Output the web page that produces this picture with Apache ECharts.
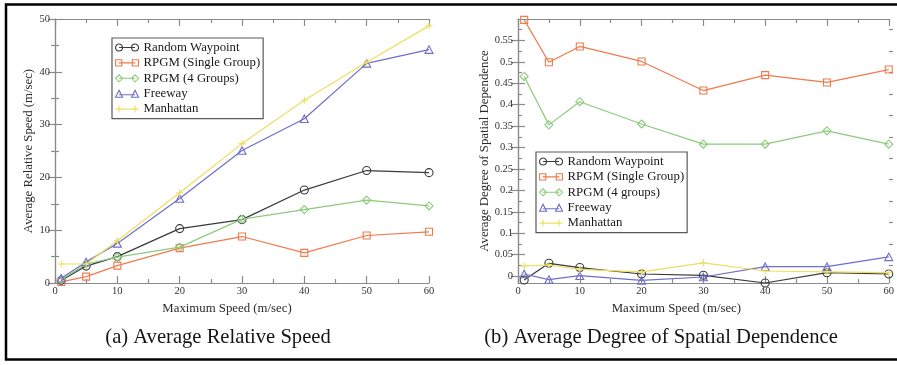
<!DOCTYPE html>
<html>
<head>
<meta charset="utf-8">
<script src="https://cdn.jsdelivr.net/npm/echarts@6/dist/echarts.min.js"></script>
<style>
  html, body { margin: 0; padding: 0; background: #fff; }
  #chart { width: 897px; height: 365px; }
</style>
</head>
<body>
<div id="chart"></div>
<script>
// Maximum node speed (m/sec) sampled in both panels
const speeds = [1, 5, 10, 20, 30, 40, 50, 60];

// (a) Average relative speed (m/sec)
const rwSpeed         = [0.5, 3.2, 5.0, 10.3, 12.0, 17.6, 21.3, 20.9];
const rpgmSingleSpeed = [0.2, 1.2, 3.3, 6.6, 8.8, 5.7, 9.0, 9.7];
const rpgm4Speed      = [0.6, 3.6, 4.9, 6.8, 12.1, 13.9, 15.7, 14.6];
const freewaySpeed    = [0.9, 4.0, 7.5, 16.0, 25.1, 31.1, 41.6, 44.2];
const manhattanSpeed  = [3.6, 3.6, 8.0, 17.1, 26.4, 34.6, 41.8, 48.7];

// (b) Average degree of spatial dependence
const rwDep         = [-0.009, 0.030, 0.020, 0.005, 0.002, -0.016, 0.008, 0.005];
const rpgmSingleDep = [0.598, 0.499, 0.536, 0.501, 0.433, 0.469, 0.452, 0.482];
const rpgm4Dep      = [0.466, 0.353, 0.407, 0.355, 0.308, 0.308, 0.339, 0.308];
const freewayDep    = [0.005, -0.008, 0.001, -0.010, -0.002, 0.022, 0.022, 0.045];
const manhattanDep  = [0.024, 0.026, 0.016, 0.010, 0.031, 0.012, 0.010, 0.008];

// Tick positions for the spatial-dependence axis
const depLabels = [0, 0.05, 0.1, 0.15, 0.2, 0.25, 0.3, 0.35, 0.4, 0.45, 0.5, 0.55];
const depMinorTicks = [0.025, 0.075, 0.125, 0.175, 0.225, 0.275, 0.325, 0.375, 0.425, 0.475, 0.525, 0.575];

const namesA = ['Random Waypoint', 'RPGM (Single Group)', 'RPGM (4 Groups)', 'Freeway', 'Manhattan'];
const namesB = ['Random Waypoint', 'RPGM (Single Group)', 'RPGM (4 groups)', 'Freeway', 'Manhattan'];

const colors = ['#3a3a3a', '#ef7a4c', '#8ccb7c', '#6e6ecc', '#eedf5e'];

const FONT = 'Liberation Serif, Times New Roman, serif';
const AXIS_GRAY = '#8a8a8a';

// Hollow marker shapes
const markerShapes = [
  'path://M0,5a5,5 0 1,0 10,0a5,5 0 1,0 -10,0Z',
  'path://M0,0L10,0L10,10L0,10Z',
  'path://M5,0L10,5L5,10L0,5Z',
  'path://M5,0L10,9L0,9Z',
  'path://M0,5L10,5M5,0L5,10'
];
const markerSizes = [8, 7, 8, [8, 7.5], 7];

// Legend icons: two markers joined by a line segment
const legendIcons = [
  'path://M0,3.5a3.5,3.5 0 1,0 7,0a3.5,3.5 0 1,0 -7,0ZM3.5,3.5L19.5,3.5M16,3.5a3.5,3.5 0 1,0 7,0a3.5,3.5 0 1,0 -7,0Z',
  'path://M0.5,0.5L6.5,0.5L6.5,6.5L0.5,6.5ZM3.5,3.5L19.5,3.5M16.5,0.5L22.5,0.5L22.5,6.5L16.5,6.5Z',
  'path://M3.5,0L7,3.5L3.5,7L0,3.5ZM3.5,3.5L19.5,3.5M19.5,0L23,3.5L19.5,7L16,3.5Z',
  'path://M3.5,0L7,7L0,7ZM3.5,4.5L19.5,4.5M19.5,0L23,7L16,7Z',
  'path://M0,3.5L23,3.5M3.5,0L3.5,7M19.5,0L19.5,7'
];

function pairs(ys) { return speeds.map((x, i) => [x, ys[i]]); }

function makeSeries(names, values, xIdx, yIdx) {
  return names.map((name, i) => ({
    name: name,
    type: 'line',
    xAxisIndex: xIdx,
    yAxisIndex: yIdx,
    data: pairs(values[i]),
    symbol: markerShapes[i],
    symbolSize: markerSizes[i],
    showAllSymbol: true,
    clip: false,
    lineStyle: { color: colors[i], width: 1.2 },
    itemStyle: { color: 'rgba(0,0,0,0)', borderColor: colors[i], borderWidth: 1.1 },
    emphasis: { disabled: true },
    animation: false,
    z: 2 + i
  }));
}

function legendFor(names, left, top) {
  return {
    orient: 'vertical',
    left: left,
    top: top,
    padding: [2, 3, 2, 3],
    itemGap: 0.4,
    itemWidth: 23,
    itemHeight: 7,
    backgroundColor: '#fff',
    borderColor: '#5a5a5a',
    borderWidth: 1.2,
    borderRadius: 0,
    selectedMode: false,
    textStyle: { fontFamily: FONT, fontSize: 12.8, color: '#1a1a1a', lineHeight: 15 },
    data: names.map((n, i) => ({
      name: n,
      icon: legendIcons[i],
      itemStyle: { color: 'rgba(0,0,0,0)', borderColor: colors[i], borderWidth: 1.1 }
    }))
  };
}

const lineStyle = { color: AXIS_GRAY, width: 1.2 };
const tickLabel = { fontFamily: FONT, fontSize: 10.5, color: '#333' };
const nameStyle = { fontFamily: FONT, fontSize: 12.8, color: '#2a2a2a' };

function speedXAxis(grid, position, withLabels, shift) {
  const ax = {
    gridIndex: grid,
    type: 'value',
    position: position,
    min: 0, max: 60, interval: 10,
    axisLine: { onZero: false, lineStyle: lineStyle },
    axisTick: { inside: true, length: 7, lineStyle: lineStyle },
    minorTick: { show: true, splitNumber: 2, length: 4, lineStyle: lineStyle },
    axisLabel: Object.assign({ show: withLabels, margin: 3 }, tickLabel),
    splitLine: { show: false }
  };
  if (withLabels) {
    ax.name = 'Maximum Speed (m/sec)';
    ax.nameLocation = 'middle';
    ax.nameGap = 12.5;
    ax.nameTextStyle = Object.assign({ padding: [0, shift * 2, 0, 0] }, nameStyle);
  }
  return ax;
}

const DEP_MIN = -0.016, DEP_MAX = 0.6;

const captionStyle = { fontFamily: FONT, fontSize: 20.6, fontWeight: 'normal', color: '#151515' };

const option = {
  animation: false,
  backgroundColor: '#fff',
  title: [
    { text: '(a) Average Relative Speed', left: 213, top: 322, textAlign: 'center', textStyle: captionStyle },
    { text: '(b) Average Degree of Spatial Dependence', left: 656, top: 322, textAlign: 'center', textStyle: captionStyle }
  ],
  graphic: [{
    type: 'rect',
    silent: true,
    shape: { x: 6, y: 4.5, width: 930, height: 355 },
    style: { fill: 'none', stroke: '#000', lineWidth: 2.5 },
    z: 100
  }],
  legend: [
    legendFor(namesA, 112, 38),
    legendFor(namesB, 536, 152)
  ],
  grid: [
    { left: 55, top: 19, width: 374, height: 264 },
    { left: 518, top: 19, width: 375, height: 264 },
    { left: 518, top: 19, width: 375, height: 264 }
  ],
  xAxis: [
    speedXAxis(0, 'bottom', true, 15),
    speedXAxis(0, 'top', false, 0),
    speedXAxis(1, 'bottom', true, 27),
    speedXAxis(1, 'top', false, 0),
    { gridIndex: 2, type: 'value', min: 0, max: 60, show: false }
  ],
  yAxis: [
    {
      gridIndex: 0, type: 'value', position: 'left',
      min: 0, max: 50, interval: 10,
      axisLine: { lineStyle: lineStyle },
      axisTick: { inside: true, length: 7, lineStyle: lineStyle },
      minorTick: { show: true, splitNumber: 2, length: 4, lineStyle: lineStyle },
      axisLabel: Object.assign({ margin: 5 }, tickLabel),
      splitLine: { show: false },
      name: 'Average Relative Speed (m/sec)',
      nameLocation: 'middle', nameGap: 17,
      nameTextStyle: nameStyle
    },
    {
      gridIndex: 0, type: 'value', position: 'right',
      min: 0, max: 50, interval: 10,
      axisLine: { lineStyle: lineStyle },
      axisTick: { inside: true, length: 7, lineStyle: lineStyle },
      minorTick: { show: true, splitNumber: 2, length: 4, lineStyle: lineStyle },
      axisLabel: { show: false },
      splitLine: { show: false }
    },
    {
      gridIndex: 1, type: 'value', position: 'left',
      min: DEP_MIN, max: DEP_MAX,
      axisLine: { lineStyle: lineStyle },
      axisTick: { inside: true, length: 7, lineStyle: lineStyle, customValues: depLabels },
      axisLabel: Object.assign({ margin: 5, customValues: depLabels }, tickLabel),
      splitLine: { show: false },
      name: 'Average Degree of Spatial Dependence',
      nameLocation: 'middle', nameGap: 19.5,
      nameTextStyle: nameStyle
    },
    {
      gridIndex: 1, type: 'value', position: 'right',
      min: DEP_MIN, max: DEP_MAX,
      axisLine: { lineStyle: lineStyle },
      axisTick: { inside: true, length: 7, lineStyle: lineStyle, customValues: depLabels },
      axisLabel: { show: false },
      splitLine: { show: false }
    },
    {
      gridIndex: 2, type: 'value', position: 'left',
      min: DEP_MIN, max: DEP_MAX,
      axisLine: { show: false },
      axisTick: { inside: true, length: 4, lineStyle: lineStyle, customValues: depMinorTicks },
      axisLabel: { show: false },
      splitLine: { show: false }
    },
    {
      gridIndex: 2, type: 'value', position: 'right',
      min: DEP_MIN, max: DEP_MAX,
      axisLine: { show: false },
      axisTick: { inside: true, length: 4, lineStyle: lineStyle, customValues: depMinorTicks },
      axisLabel: { show: false },
      splitLine: { show: false }
    }
  ],
  series: [].concat(
    makeSeries(namesA, [rwSpeed, rpgmSingleSpeed, rpgm4Speed, freewaySpeed, manhattanSpeed], 0, 0),
    makeSeries(namesB, [rwDep, rpgmSingleDep, rpgm4Dep, freewayDep, manhattanDep], 2, 2)
  )
};

const chart = echarts.init(document.getElementById('chart'), null, { renderer: 'canvas' });
chart.setOption(option);
</script>
</body>
</html>
